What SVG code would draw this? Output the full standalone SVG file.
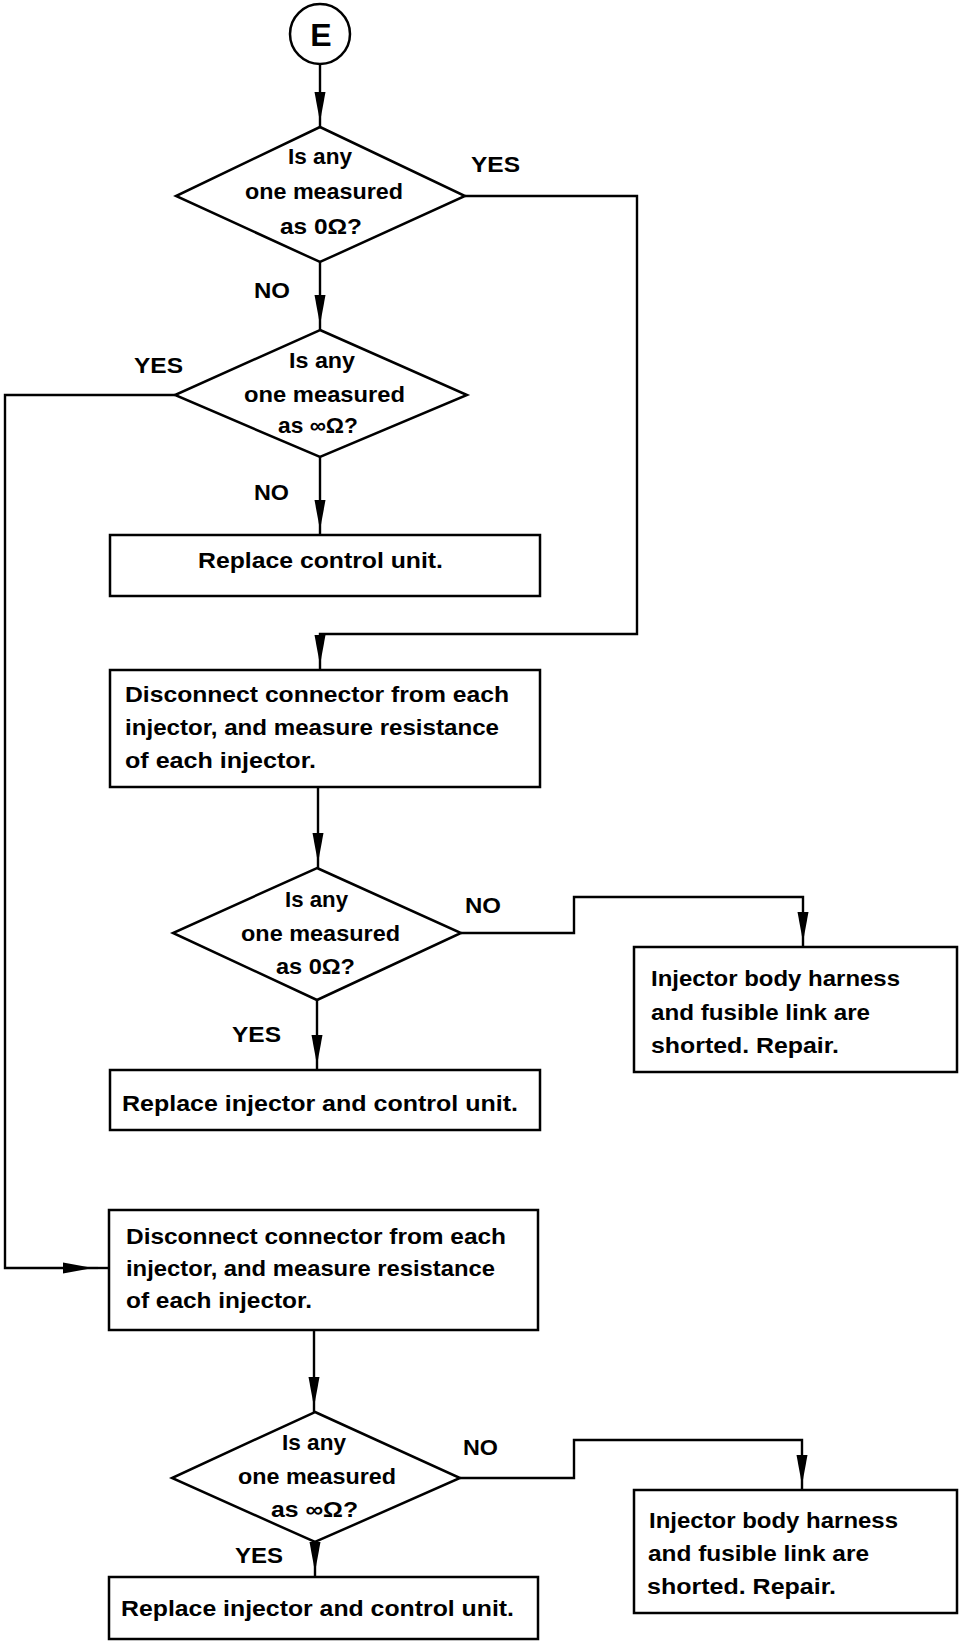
<svg xmlns="http://www.w3.org/2000/svg" width="960" height="1642" viewBox="0 0 960 1642">
<style>
.shape{fill:#fff;stroke:#000;stroke-width:2.5}
.conn{fill:none;stroke:#000;stroke-width:2.4}
text{font-family:"Liberation Sans",Arial,sans-serif;font-size:22px;font-weight:bold;fill:#000}
.lbl{font-size:22px}
.big{font-size:32px;text-anchor:middle}
</style>
<defs>
<marker id="ah" markerUnits="userSpaceOnUse" markerWidth="44" markerHeight="14" viewBox="0 -7 44 14" refX="35" refY="0" orient="auto">
<path d="M0,-5.5 L30,0 L0,5.5 z" fill="#000"/>
</marker>
</defs>
<rect width="960" height="1642" fill="#fff"/>

<g id="connectors">
<path class="conn" d="M320,64 V127" marker-end="url(#ah)"/>
<path class="conn" d="M320,258 V330" marker-end="url(#ah)"/>
<path class="conn" d="M465,196 H637 V634 H320 V670" marker-end="url(#ah)"/>
<path class="conn" d="M320,457 V535" marker-end="url(#ah)"/>
<path class="conn" d="M175,395 H5 V1268 H98" marker-end="url(#ah)"/>
<path class="conn" d="M98,1268 H109"/>
<path class="conn" d="M318,787 V868" marker-end="url(#ah)"/>
<path class="conn" d="M461,933 H574 V897 H803 V947" marker-end="url(#ah)"/>
<path class="conn" d="M317,1000 V1070" marker-end="url(#ah)"/>
<path class="conn" d="M314,1330 V1412" marker-end="url(#ah)"/>
<path class="conn" d="M460,1478 H574 V1440 H802 V1490" marker-end="url(#ah)"/>
<path class="conn" d="M315,1542 V1577" marker-end="url(#ah)"/>
</g>

<g id="labels">
<text class="lbl" x="471" y="172" textLength="49" lengthAdjust="spacingAndGlyphs">YES</text>
<text class="lbl" x="254" y="298" textLength="36" lengthAdjust="spacingAndGlyphs">NO</text>
<text class="lbl" x="134" y="373" textLength="49" lengthAdjust="spacingAndGlyphs">YES</text>
<text class="lbl" x="254" y="500" textLength="35" lengthAdjust="spacingAndGlyphs">NO</text>
<text class="lbl" x="465" y="913" textLength="36" lengthAdjust="spacingAndGlyphs">NO</text>
<text class="lbl" x="232" y="1042" textLength="49" lengthAdjust="spacingAndGlyphs">YES</text>
<text class="lbl" x="463" y="1455" textLength="35" lengthAdjust="spacingAndGlyphs">NO</text>
<text class="lbl" x="235" y="1563" textLength="48" lengthAdjust="spacingAndGlyphs">YES</text>
</g>

<g id="start">
<circle class="shape" cx="320" cy="34" r="30"/>
<text class="big" x="321" y="46">E</text>
</g>

<g id="d1">
<polygon class="shape" points="320,127 465,196 320,262 176,196"/>
<text x="288" y="164" textLength="64" lengthAdjust="spacingAndGlyphs">Is any</text>
<text x="245" y="199" textLength="158" lengthAdjust="spacingAndGlyphs">one measured</text>
<text x="280" y="234" textLength="82" lengthAdjust="spacingAndGlyphs">as 0Ω?</text>
</g>

<g id="d2">
<polygon class="shape" points="320,330 467,395 320,457 175,395"/>
<text x="289" y="368" textLength="66" lengthAdjust="spacingAndGlyphs">Is any</text>
<text x="244" y="402" textLength="161" lengthAdjust="spacingAndGlyphs">one measured</text>
<text x="278" y="433" textLength="80" lengthAdjust="spacingAndGlyphs">as ∞Ω?</text>
</g>

<g id="box-replace-cu">
<rect class="shape" x="110" y="535" width="430" height="61"/>
<text x="198" y="568" textLength="245" lengthAdjust="spacingAndGlyphs">Replace control unit.</text>
</g>

<g id="box-disconnect-1">
<rect class="shape" x="110" y="670" width="430" height="117"/>
<text x="125" y="702" textLength="384" lengthAdjust="spacingAndGlyphs">Disconnect connector from each</text>
<text x="125" y="735" textLength="374" lengthAdjust="spacingAndGlyphs">injector, and measure resistance</text>
<text x="125" y="768" textLength="191" lengthAdjust="spacingAndGlyphs">of each injector.</text>
</g>

<g id="d3">
<polygon class="shape" points="317,868 461,933 317,1000 173,933"/>
<text x="285" y="907" textLength="63" lengthAdjust="spacingAndGlyphs">Is any</text>
<text x="241" y="941" textLength="159" lengthAdjust="spacingAndGlyphs">one measured</text>
<text x="276" y="974" textLength="79" lengthAdjust="spacingAndGlyphs">as 0Ω?</text>
</g>

<g id="box-short-1">
<rect class="shape" x="634" y="947" width="323" height="125"/>
<text x="651" y="986" textLength="249" lengthAdjust="spacingAndGlyphs">Injector body harness</text>
<text x="651" y="1020" textLength="219" lengthAdjust="spacingAndGlyphs">and fusible link are</text>
<text x="651" y="1053" textLength="188" lengthAdjust="spacingAndGlyphs">shorted. Repair.</text>
</g>

<g id="box-replace-inj-1">
<rect class="shape" x="110" y="1070" width="430" height="60"/>
<text x="122" y="1111" textLength="396" lengthAdjust="spacingAndGlyphs">Replace injector and control unit.</text>
</g>

<g id="box-disconnect-2">
<rect class="shape" x="109" y="1210" width="429" height="120"/>
<text x="126" y="1244" textLength="380" lengthAdjust="spacingAndGlyphs">Disconnect connector from each</text>
<text x="126" y="1276" textLength="369" lengthAdjust="spacingAndGlyphs">injector, and measure resistance</text>
<text x="126" y="1308" textLength="186" lengthAdjust="spacingAndGlyphs">of each injector.</text>
</g>

<g id="d4">
<polygon class="shape" points="315,1412 460,1478 315,1542 172,1478"/>
<text x="282" y="1450" textLength="64" lengthAdjust="spacingAndGlyphs">Is any</text>
<text x="238" y="1484" textLength="158" lengthAdjust="spacingAndGlyphs">one measured</text>
<text x="271" y="1517" textLength="87" lengthAdjust="spacingAndGlyphs">as ∞Ω?</text>
</g>

<g id="box-short-2">
<rect class="shape" x="634" y="1490" width="323" height="123"/>
<text x="649" y="1528" textLength="249" lengthAdjust="spacingAndGlyphs">Injector body harness</text>
<text x="648" y="1561" textLength="221" lengthAdjust="spacingAndGlyphs">and fusible link are</text>
<text x="647" y="1594" textLength="189" lengthAdjust="spacingAndGlyphs">shorted. Repair.</text>
</g>

<g id="box-replace-inj-2">
<rect class="shape" x="109" y="1577" width="429" height="62"/>
<text x="121" y="1616" textLength="393" lengthAdjust="spacingAndGlyphs">Replace injector and control unit.</text>
</g>
</svg>
